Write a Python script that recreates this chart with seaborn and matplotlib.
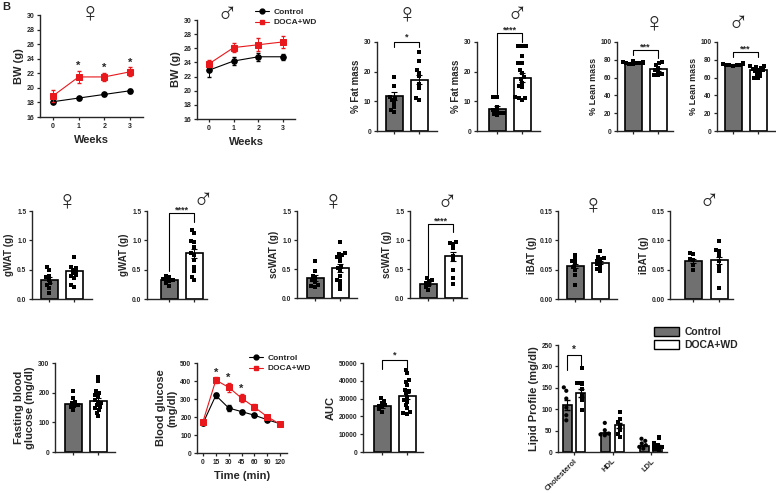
import pandas as pd
import matplotlib
matplotlib.use("Agg")
import matplotlib.pyplot as plt
import seaborn as sns
from matplotlib.lines import Line2D
from matplotlib.patches import Patch
from matplotlib.ticker import FormatStrFormatter

# ---------------- data ----------------
groups = ["Control", "DOCA+WD"]

weeks = [0, 1, 2, 3]
bw_f_ctrl = [18.1, 18.6, 19.1, 19.6]
bw_f_ctrl_err = [0.2, 0.2, 0.25, 0.25]
bw_f_doca = [18.9, 21.5, 21.5, 22.2]
bw_f_doca_err = [0.8, 0.8, 0.6, 0.6]
bw_m_ctrl = [22.9, 24.2, 24.8, 24.8]
bw_m_ctrl_err = [0.9, 0.6, 0.6, 0.4]
bw_m_doca = [23.8, 26.1, 26.5, 26.9]
bw_m_doca_err = [0.5, 0.6, 0.9, 0.9]

fat_f_ctrl = [18.1, 15.2, 11.5, 11.0, 10.4, 9.5, 8.2, 7.2, 6.5]
fat_f_doca = [26.5, 23.7, 20.6, 19.7, 18.4, 16.0, 14.4, 11.0, 10.4]
fat_f_mean, fat_f_sem = [11.8, 17.3], [1.2, 1.6]
fat_m_ctrl = [11.5, 11.5, 8.0, 7.0, 6.8, 6.1, 5.9, 5.7, 5.3]
fat_m_doca = [28.7, 28.7, 28.7, 25.4, 23.0, 22.9, 20.4, 19.5, 18.1, 17.4,
              16.3, 15.2, 14.7, 11.5, 11.0, 11.0, 10.5]
fat_m_mean, fat_m_sem = [7.5, 17.9], [0.8, 1.5]

lean_f_ctrl = [79, 77, 77, 76.5, 76.5, 76, 76, 75.5, 75]
lean_f_doca = [77, 76, 74, 71, 69, 67, 64, 63, 63]
lean_f_mean, lean_f_sem = [76.5, 69.5], [0.8, 1.8]
lean_m_ctrl = [76, 75.5, 75, 75, 74.5, 74.5, 74, 74, 73.5]
lean_m_doca = [73, 72.5, 72, 71, 70, 69, 68, 67, 66, 64, 62, 60, 59]
lean_m_mean, lean_m_sem = [74.5, 69.0], [0.5, 1.2]

gwat_f_ctrl = [0.54, 0.49, 0.40, 0.37, 0.33, 0.27, 0.24, 0.19, 0.11]
gwat_f_doca = [0.71, 0.55, 0.53, 0.50, 0.47, 0.44, 0.41, 0.39, 0.36, 0.24, 0.21]
gwat_f_mean, gwat_f_sem = [0.33, 0.47], [0.05, 0.04]
gwat_m_ctrl = [0.40, 0.37, 0.34, 0.33, 0.32, 0.30, 0.27, 0.23]
gwat_m_doca = [1.17, 1.12, 0.99, 0.97, 0.89, 0.78, 0.75, 0.67, 0.55, 0.47, 0.38, 0.33]
gwat_m_mean, gwat_m_sem = [0.32, 0.78], [0.02, 0.08]

scwat_f_ctrl = [0.63, 0.46, 0.38, 0.34, 0.31, 0.27, 0.23, 0.20, 0.19]
scwat_f_doca = [0.97, 0.78, 0.76, 0.74, 0.71, 0.69, 0.63, 0.54, 0.51, 0.46,
                0.38, 0.31, 0.29, 0.23, 0.15]
scwat_f_mean, scwat_f_sem = [0.34, 0.52], [0.05, 0.07]
scwat_m_ctrl = [0.34, 0.31, 0.29, 0.26, 0.23, 0.19, 0.14]
scwat_m_doca = [0.97, 0.95, 0.93, 0.86, 0.73, 0.66, 0.49, 0.34, 0.25]
scwat_m_mean, scwat_m_sem = [0.25, 0.72], [0.03, 0.08]

ibat_f_ctrl = [0.075, 0.069, 0.065, 0.061, 0.055, 0.050, 0.041, 0.024]
ibat_f_doca = [0.082, 0.072, 0.070, 0.068, 0.065, 0.062, 0.059, 0.055, 0.051, 0.047]
ibat_f_mean, ibat_f_sem = [0.056, 0.062], [0.004, 0.002]
ibat_m_ctrl = [0.078, 0.076, 0.069, 0.067, 0.058, 0.050]
ibat_m_doca = [0.099, 0.083, 0.081, 0.075, 0.064, 0.055, 0.047, 0.019]
ibat_m_mean, ibat_m_sem = [0.065, 0.066], [0.003, 0.006]

fbg_ctrl = [204, 181, 170, 164, 158, 155, 151, 142]
fbg_doca = [252, 238, 204, 198, 192, 187, 175, 170, 164, 158, 153, 147, 142, 132, 121]
fbg_mean, fbg_sem = [163, 172], [6, 9]

gtt_times = ["0", "15", "30", "45", "60", "90", "120"]
gtt_ctrl = [165, 320, 250, 230, 210, 185, 163]
gtt_ctrl_err = [8, 12, 15, 8, 8, 6, 6]
gtt_doca = [175, 405, 365, 305, 255, 202, 160]
gtt_doca_err = [8, 15, 25, 22, 15, 10, 6]

auc_ctrl = [30200, 28900, 27400, 26500, 25900, 25100, 24000, 22600]
auc_doca = [46200, 44300, 40600, 39600, 37700, 34900, 34000, 33000, 31100,
            29200, 28300, 26400, 24500, 22600, 21700, 21300]
auc_mean, auc_sem = [25800, 31500], [800, 1800]

lipids = ["Cholesterol", "HDL", "LDL"]
lip_ctrl_mean = [110, 44, 15]
lip_ctrl_sem = [12, 3, 2]
lip_doca_mean = [138, 62, 14]
lip_doca_sem = [10, 5, 3]
lip_ctrl_pts = [[151, 143, 125, 104, 86, 74], [68, 51, 43, 41, 39], [31, 26, 20, 16, 12, 8]]
lip_doca_pts = [[197, 162, 160, 148, 133, 121, 98], [94, 78, 70, 62, 51, 43, 35],
                [34, 20, 16, 12, 8, 5]]

# ---------------- style ----------------
sns.set_style("ticks")
plt.rcParams["font.family"] = ["Liberation Sans", "DejaVu Sans"]
plt.rcParams["font.weight"] = "bold"
plt.rcParams["axes.labelweight"] = "bold"
plt.rcParams["axes.linewidth"] = 1.0

GRAY = "#707070"
RED = "#e8181c"
W, H = 776, 494
fig = plt.figure(figsize=(W / 100, H / 100), dpi=100)


def add_ax(left, right, ybot, ytop):
    return fig.add_axes([left / W, 1 - ybot / H, (right - left) / W, (ybot - ytop) / H])


def style(ax, fs=4.8):
    sns.despine(ax=ax)
    ax.tick_params(labelsize=fs, length=2.5, width=0.9, pad=1.5)
    for lab in ax.get_xticklabels() + ax.get_yticklabels():
        lab.set_fontweight("bold")


def bracket(ax, x0, x1, y, yl0, yl1, text, fs=6.5, dy=0):
    ax.plot([x0, x0, x1, x1], [yl0, y, y, yl1], color="black", lw=0.8, clip_on=False)
    ax.annotate(text, ((x0 + x1) / 2, y), xytext=(0, dy), textcoords="offset points",
                ha="center", va="bottom", fontsize=fs, fontweight="bold",
                annotation_clip=False)


def bar_panel(px, ctrl, doca, mean, sem, yticks, ylabel, fmt="%g", lfs=7):
    left, c0, c1, right, y0, yt = px
    s = c1 - c0
    ax = add_ax(left, right, y0, yt)
    sns.barplot(x=groups, y=mean, hue=groups, palette=[GRAY, "white"], width=17 / s,
                edgecolor="black", linewidth=1.2, legend=False, ax=ax)
    ax.errorbar([0, 1], mean, yerr=sem, fmt="none", ecolor="black", elinewidth=0.8,
                capsize=2, capthick=0.8, zorder=3)
    pts = pd.DataFrame({"group": ["Control"] * len(ctrl) + ["DOCA+WD"] * len(doca),
                        "value": ctrl + doca})
    sns.swarmplot(data=pts, x="group", y="value", color="black", size=2.5, marker="s",
                  zorder=4, ax=ax)
    ax.set_xlim((left - c0) / s, (right - c0) / s)
    ax.set_ylim(0, yticks[-1])
    ax.set_yticks(yticks)
    ax.yaxis.set_major_formatter(FormatStrFormatter(fmt))
    ax.set_xticks([0, 1])
    ax.set_xticklabels(["", ""])
    ax.set_xlabel("")
    ax.set_ylabel(ylabel, fontsize=lfs, labelpad=2)
    style(ax)
    return ax


def sex(x, y, sym, fs=20):
    fig.text(x / W, 1 - y / H, sym, ha="center", va="center", fontsize=fs, fontweight="bold")


# ---------------- row 1: body weight ----------------
for (left, x0, x3, right, y0, yt), c, ce, d, de in [
        ((40, 53, 130, 143, 117, 15), bw_f_ctrl, bw_f_ctrl_err, bw_f_doca, bw_f_doca_err),
        ((197, 209, 283, 295, 119, 20), bw_m_ctrl, bw_m_ctrl_err, bw_m_doca, bw_m_doca_err)]:
    s = (x3 - x0) / 3
    ax = add_ax(left, right, y0, yt)
    sns.lineplot(x=weeks, y=c, color="black", marker="o", markersize=4, lw=0.8,
                 markeredgecolor="black", ax=ax)
    ax.errorbar(weeks, c, yerr=ce, fmt="none", ecolor="black", elinewidth=0.7, capsize=1.5)
    sns.lineplot(x=weeks, y=d, color=RED, marker="s", markersize=4, lw=0.8,
                 markeredgecolor=RED, ax=ax)
    ax.errorbar(weeks, d, yerr=de, fmt="none", ecolor=RED, elinewidth=0.7, capsize=1.5)
    ax.set_xlim((left - x0) / s, (right - x0) / s)
    ax.set_ylim(16, 30)
    ax.set_yticks(range(16, 31, 2))
    ax.set_xticks(weeks)
    ax.set_xlabel("Weeks", fontsize=8)
    ax.set_ylabel("BW (g)", fontsize=8, labelpad=2)
    style(ax, 5)
    if left == 40:
        for wk, yy in zip([1, 2, 3], [22.3, 22.1, 22.8]):
            ax.text(wk, yy, "*", ha="center", va="bottom", fontsize=8, fontweight="bold")

fig.legend(handles=[Line2D([], [], color="black", marker="o", markersize=3.5, lw=0.8),
                    Line2D([], [], color=RED, marker="s", markersize=3.5, lw=0.8)],
           labels=groups, loc="upper left", bbox_to_anchor=(252 / W, 1 - 5 / H),
           frameon=False, fontsize=6, handlelength=1.6, handletextpad=0.6,
           labelspacing=0.3, borderaxespad=0)

ax = bar_panel((377, 394, 419, 437, 131, 42), fat_f_ctrl, fat_f_doca, fat_f_mean, fat_f_sem,
               [0, 10, 20, 30], "% Fat mass")
bracket(ax, 0, 1, 30, 28.3, 28.3, "*")
ax = bar_panel((477, 497, 522, 540, 131, 42), fat_m_ctrl, fat_m_doca, fat_m_mean, fat_m_sem,
               [0, 10, 20, 30], "% Fat mass")
bracket(ax, 0, 1, 33, 12.5, 30, "****", dy=-1)
ax = bar_panel((617, 633, 658, 673, 131, 42), lean_f_ctrl, lean_f_doca, lean_f_mean, lean_f_sem,
               [0, 20, 40, 60, 80, 100], "% Lean mass", lfs=6.5)
bracket(ax, 0, 1, 91, 85, 82, "***", dy=-1)
ax = bar_panel((717, 733, 758, 775, 131, 42), lean_m_ctrl, lean_m_doca, lean_m_mean, lean_m_sem,
               [0, 20, 40, 60, 80, 100], "% Lean mass", lfs=6.5)
bracket(ax, 0, 1, 89, 83, 83, "***", dy=-1)

# ---------------- row 2: fat depots ----------------
ax = bar_panel((32, 49, 74, 92, 299, 211), gwat_f_ctrl, gwat_f_doca, gwat_f_mean, gwat_f_sem,
               [0, 0.5, 1.0, 1.5], "gWAT (g)", "%.1f")
ax = bar_panel((147, 169, 194, 207, 299, 211), gwat_m_ctrl, gwat_m_doca, gwat_m_mean, gwat_m_sem,
               [0, 0.5, 1.0, 1.5], "gWAT (g)", "%.1f")
bracket(ax, 0, 1, 1.47, 0.47, 1.32, "****", dy=-1)
ax = bar_panel((297, 315, 340, 357, 298, 211), scwat_f_ctrl, scwat_f_doca, scwat_f_mean,
               scwat_f_sem, [0, 0.5, 1.0, 1.5], "scWAT (g)", "%.1f")
ax = bar_panel((410, 428, 453, 467, 298, 211), scwat_m_ctrl, scwat_m_doca, scwat_m_mean,
               scwat_m_sem, [0, 0.5, 1.0, 1.5], "scWAT (g)", "%.1f")
bracket(ax, 0, 1, 1.27, 0.38, 1.14, "****", dy=-1)
ax = bar_panel((558, 575, 600, 617, 299, 211), ibat_f_ctrl, ibat_f_doca, ibat_f_mean, ibat_f_sem,
               [0, 0.05, 0.10, 0.15], "iBAT (g)", "%.2f")
ax = bar_panel((670, 693, 719, 733, 299, 211), ibat_m_ctrl, ibat_m_doca, ibat_m_mean, ibat_m_sem,
               [0, 0.05, 0.10, 0.15], "iBAT (g)", "%.2f")

# ---------------- row 3: glucose and lipids ----------------
ax = bar_panel((55, 73, 98, 115, 452, 363), fbg_ctrl, fbg_doca, fbg_mean, fbg_sem,
               [0, 100, 200, 300], "Fasting blood\nglucose (mg/dl)", lfs=8)

left, x0, xn, right, y0, yt = 197, 203, 280, 287, 453, 363
s = (xn - x0) / 6
pos = list(range(len(gtt_times)))
ax = add_ax(left, right, y0, yt)
sns.lineplot(x=pos, y=gtt_ctrl, color="black", marker="o", markersize=4, lw=0.8,
             markeredgecolor="black", ax=ax)
ax.errorbar(pos, gtt_ctrl, yerr=gtt_ctrl_err, fmt="none", ecolor="black", elinewidth=0.7, capsize=1.5)
sns.lineplot(x=pos, y=gtt_doca, color=RED, marker="s", markersize=4, lw=0.8,
             markeredgecolor=RED, ax=ax)
ax.errorbar(pos, gtt_doca, yerr=gtt_doca_err, fmt="none", ecolor=RED, elinewidth=0.7, capsize=1.5)
ax.set_xlim((left - x0) / s, (right - x0) / s)
ax.set_ylim(0, 500)
ax.set_yticks(range(0, 501, 100))
ax.set_xticks(pos)
ax.set_xticklabels(gtt_times)
ax.set_xlabel("Time (min)", fontsize=8)
ax.set_ylabel("Blood glucose\n(mg/dl)", fontsize=8, labelpad=2)
style(ax)
for p, yy in zip([1, 2, 3], [420, 392, 328]):
    ax.text(p, yy, "*", ha="center", va="bottom", fontsize=8, fontweight="bold")
fig.legend(handles=[Line2D([], [], color="black", marker="o", markersize=3.5, lw=0.8),
                    Line2D([], [], color=RED, marker="s", markersize=3.5, lw=0.8)],
           labels=groups, loc="upper left", bbox_to_anchor=(246 / W, 1 - 351 / H),
           frameon=False, fontsize=6, handlelength=1.6, handletextpad=0.6,
           labelspacing=0.3, borderaxespad=0)

ax = bar_panel((363, 382, 407, 423, 452, 363), auc_ctrl, auc_doca, auc_mean, auc_sem,
               [0, 10000, 20000, 30000, 40000, 50000], "AUC", lfs=8)
bracket(ax, 0, 1, 51700, 46600, 46000, "*")

# lipid profile
left, right, y0, yt = 558, 667, 452, 345
c0, sp = 574, 38.5
ax = add_ax(left, right, y0, yt)
lip_df = pd.DataFrame({"lipid": lipids * 2,
                       "group": ["Control"] * 3 + ["DOCA+WD"] * 3,
                       "mean": lip_ctrl_mean + lip_doca_mean})
sns.barplot(data=lip_df, x="lipid", y="mean", hue="group", hue_order=groups,
            palette=[GRAY, "white"], width=0.72, gap=0.35, edgecolor="black",
            linewidth=1.2, legend=False, ax=ax)
ax.errorbar([i - 0.18 for i in range(3)], lip_ctrl_mean, yerr=lip_ctrl_sem, fmt="none",
            ecolor="black", elinewidth=0.8, capsize=2, zorder=3)
ax.errorbar([i + 0.18 for i in range(3)], lip_doca_mean, yerr=lip_doca_sem, fmt="none",
            ecolor="black", elinewidth=0.8, capsize=2, zorder=3)
rows = []
for i, lp in enumerate(lipids):
    rows += [(lp, "Control", v) for v in lip_ctrl_pts[i]]
    rows += [(lp, "DOCA+WD", v) for v in lip_doca_pts[i]]
pts = pd.DataFrame(rows, columns=["lipid", "group", "value"])
for g, mk in zip(groups, ["o", "s"]):
    sns.swarmplot(data=pts[pts.group == g], x="lipid", y="value", hue="group",
                  hue_order=groups, order=lipids, dodge=True, palette=["black", "black"],
                  marker=mk, size=3, legend=False, zorder=4, ax=ax)
ax.set_xlim((left - c0) / sp, (right - c0) / sp)
ax.set_ylim(0, 250)
ax.set_yticks(range(0, 251, 50))
ax.set_xlabel("")
ax.set_ylabel("Lipid Profile (mg/dl)", fontsize=8, labelpad=2)
style(ax)
plt.setp(ax.get_xticklabels(), rotation=45, ha="right", rotation_mode="anchor", fontsize=5.5)
bracket(ax, -0.18, 0.18, 226.6, 191.6, 201, "*", fs=7)
fig.legend(handles=[Patch(facecolor=GRAY, edgecolor="black", lw=1),
                    Patch(facecolor="white", edgecolor="black", lw=1)],
           labels=groups, loc="upper left", bbox_to_anchor=(650 / W, 1 - 323 / H),
           frameon=False, fontsize=7.5, handlelength=2.4, handleheight=0.9,
           handletextpad=0.5, labelspacing=0.3, borderaxespad=0)

# sex symbols and panel letter
for x, y, sym in [(90, 14, "♀"), (227, 14, "♂"), (407, 15, "♀"), (517, 14, "♂"),
                  (654, 24, "♀"), (738, 23, "♂"), (67, 202, "♀"), (203, 200, "♂"),
                  (333, 202, "♀"), (447, 202, "♂"), (593, 206, "♀"), (709, 201, "♂")]:
    sex(x, y, sym)
fig.text(2 / W, 1 - 7 / H, "B", fontsize=8, fontweight="bold", va="center")

fig.savefig("out.png", dpi=100)
